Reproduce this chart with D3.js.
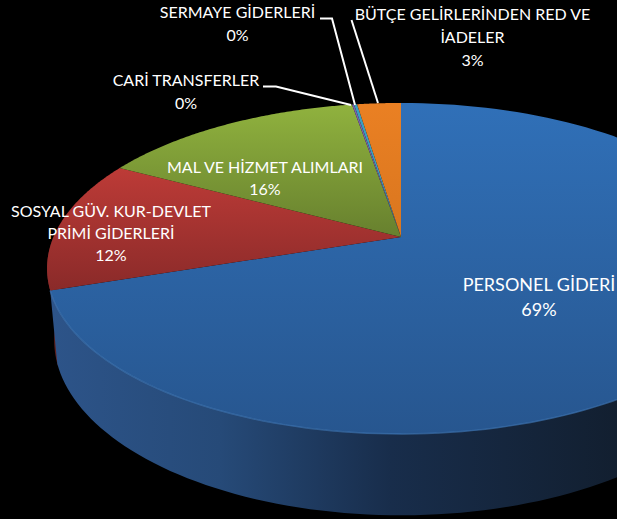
<!DOCTYPE html>
<html><head><meta charset="utf-8">
<script src="https://cdn.jsdelivr.net/npm/d3@7"></script>
<style>html,body{margin:0;padding:0;background:#000}svg{display:block}text{font-family:Lato,"Open Sans",sans-serif;fill:#fff;font-size:16px}</style>
</head><body><svg id="c" width="617" height="519"></svg>
<script>
const categories=["PERSONEL GİDERİ","SOSYAL GÜV. KUR-DEVLET PRİMİ GİDERLERİ","MAL VE HİZMET ALIMLARI","CARİ TRANSFERLER","SERMAYE GİDERLERİ","BÜTÇE GELİRLERİNDEN RED VE İADELER"];
const values=[69.9,12.9,14.52,0.11,0.17,2.4];
const percentLabels=["69%","12%","16%","0%","0%","3%"];

const palette=[["#3070b8","#27568f"],["#bd3b37","#8a2a29"],["#90b23e","#67802e"],["#7c5fa8","#7c5fa8"],["#3a9dc0","#3a9dc0"],["#ea8023","#d9761f"]];
const labelLayout=[
 {x:539,y:[291,316],lines:["PERSONEL GİDERİ"],size:18},
 {x:111,y:[217,239,261],lines:["SOSYAL GÜV. KUR-DEVLET","PRİMİ GİDERLERİ"]},
 {x:265,y:[173,195],lines:["MAL VE HİZMET ALIMLARI"]},
 {x:186,y:[86,109],lines:["CARİ TRANSFERLER"]},
 {x:237.5,y:[18,41],lines:["SERMAYE GİDERLERİ"]},
 {x:472.5,y:[20,43,66],lines:["BÜTÇE GELİRLERİNDEN RED VE","İADELER"]}
];
const leaders=[
 [[263,86.5],[276,86.5],[351,105]],
 [[320,18.5],[332,18.5],[355,105]],
 [[351.5,20],[378,103]]
];

const svg=d3.select("#c");
const defs=svg.append("defs");
const p=0.19;
const project=(X,Y,A,B)=>t=>{const u=Math.sin(t),v=-Math.cos(t),w=1-p*v;return [X+A*u/w,Y+B*v/w];};
const topRim=project(401,237,347.5,159.5), bottomRim=project(401,307,340.5,168.7);
const arcs=d3.pie().sort(null).value(d=>d)(values);
const line=d3.line();
const sample=(a,b)=>d3.range(0,1.0001,1/120).map(d3.scaleLinear().range([a,b]));

function grad(id,stops,x1,y1,x2,y2){
 const g=defs.append("linearGradient").attr("id",id).attr("gradientUnits","userSpaceOnUse")
  .attr("x1",x1).attr("y1",y1).attr("x2",x2).attr("y2",y2);
 stops.forEach(s=>g.append("stop").attr("offset",s[0]).attr("stop-color",s[1]));
}
grad("wallBlue",[[0,"#2d5489"],[0.3,"#264a78"],[0.6,"#182d4b"],[1,"#121f30"]],50,0,617,0);
const wall=(a,b)=>{const ts=sample(a,b);return line(ts.map(bottomRim).concat(ts.slice().reverse().map(topRim)))+"Z";};
const blue=arcs[0];
svg.append("path").attr("d",wall(blue.endAngle-0.02,Math.PI*1.5+0.02)).attr("fill","#5e1f1e");
svg.append("path").attr("d",wall(Math.PI/3,blue.endAngle)).attr("fill","url(#wallBlue)");

arcs.forEach((d,i)=>{
 const ts=sample(d.startAngle,d.endAngle), pts=ts.map(topRim);
 const ys=pts.map(q=>q[1]).concat([237]);
 grad("f"+i,[[0,palette[i][0]],[1,palette[i][1]]],0,d3.min(ys),0,d3.max(ys));
 svg.append("path").attr("d",line([[401,237]].concat(pts))+"Z").attr("fill","url(#f"+i+")");
});
svg.append("path").attr("d",line(sample(Math.PI/3,blue.endAngle).map(topRim))).attr("fill","none").attr("stroke","#3d74b0").attr("stroke-width",1.5).attr("stroke-opacity",.7);

leaders.forEach(l=>svg.append("path").attr("d",line(l)).attr("fill","none").attr("stroke","#fff").attr("stroke-width",2));
labelLayout.forEach((l,i)=>{
 const rows=l.lines.concat([percentLabels[i]]);
 rows.forEach((r,k)=>svg.append("text").attr("x",l.x).attr("y",l.y[k]).attr("text-anchor","middle").style("font-size",(l.size||16)+"px").text(r));
});
</script></body></html>
